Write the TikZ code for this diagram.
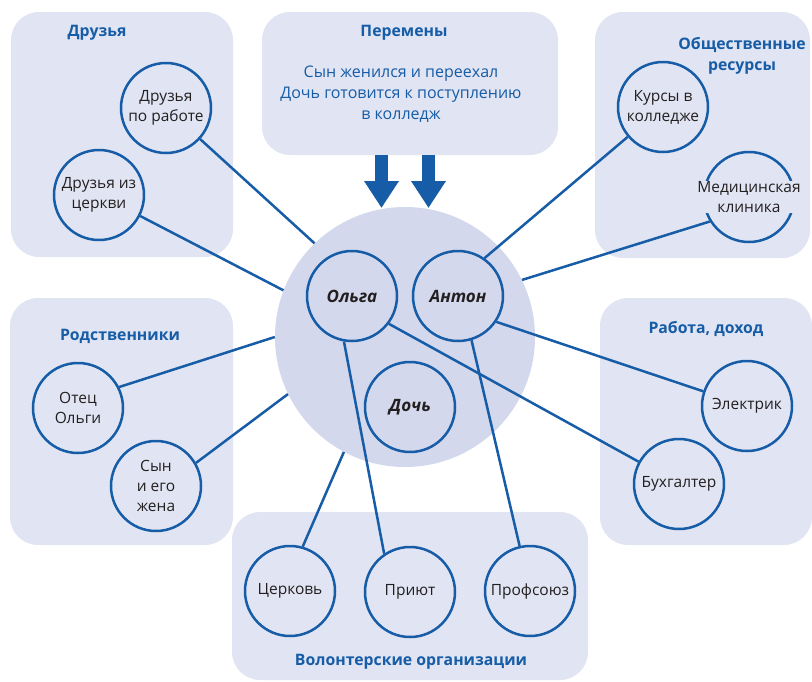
\documentclass[tikz,border=0pt]{standalone}
\usepackage{fontspec}
\setmainfont{Open Sans}
\usetikzlibrary{arrows.meta,calc}
\definecolor{boxfill}{RGB}{225,229,243}
\definecolor{bigfill}{RGB}{211,216,237}
\definecolor{lineblue}{RGB}{22,92,166}
\definecolor{txt}{RGB}{35,31,32}
\begin{document}
\begin{tikzpicture}[x=1pt,y=-1pt,
 grp/.style={fill=boxfill, draw=none, rounded corners=28pt, inner sep=0pt},
 sc/.style={circle, draw=lineblue, line width=2.5pt, fill=boxfill, minimum size=90pt, inner sep=0pt, align=center, text=txt, font=\fontsize{15.5}{20}\selectfont},
 cc/.style={sc, fill=bigfill, font=\fontsize{17}{20}\selectfont\bfseries\itshape},
 ttl/.style={text=lineblue, font=\fontsize{15.8}{21}\selectfont\bfseries, align=center, inner sep=0pt},
 body/.style={text=lineblue, font=\fontsize{16}{21}\selectfont, align=center, inner sep=0pt},
 link/.style={draw=lineblue, line width=2.5pt},
 fat/.style={draw=lineblue, line width=13pt, -{Triangle[width=33pt,length=27pt]}},
]
\useasboundingbox (0,0) rectangle (812,681);
% group boxes
\node[grp, minimum width=222pt, minimum height=245pt] (gfr) at (122,134.5) {};
\node[grp, minimum width=296pt, minimum height=143pt] (ch) at (410,83.5) {};
\node[grp, minimum width=215pt, minimum height=246pt] (gres) at (702.5,135) {};
\node[grp, minimum width=223pt, minimum height=247pt] (grel) at (121.5,421.5) {};
\node[grp, minimum width=212pt, minimum height=247pt] (gwork) at (706,421.5) {};
\node[grp, minimum width=356pt, minimum height=168pt] (gvol) at (410,596) {};
% titles
\node[ttl] (tfr) at (97,33) {Друзья};
\node[ttl] (tch) at (404,33) {Перемены};
\node[body] (tchb) at (401,94) {Сын женился и переехал\\Дочь готовится к поступлению\\в колледж};
\node[ttl] (tres) at (742,55.5) {Общественные\\ресурсы};
\node[ttl] (trel) at (120,336) {Родственники};
\node[ttl] (twork) at (706,329) {Работа, доход};
\node[ttl] (tvol) at (411,662) {Волонтерские организации};
% big circle
\node[circle, fill=bigfill, minimum size=260pt, inner sep=0pt] (big) at (405,337) {};
% circles
\node[cc] (olga) at (352,296) {Ольга};
\node[cc] (anton) at (458,296) {Антон};
\node[cc] (doch) at (410,407) {Дочь};
\node[sc] (fw) at (166,108) {Друзья\\по работе};
\node[sc] (fc) at (99,195) {Друзья из\\церкви};
\node[sc] (kurs) at (663,107) {Курсы в\\колледже};
\node[sc] (med) at (749,197) {};
\node[fill=boxfill, inner sep=0.5pt, align=center, text=txt, font=\fontsize{15.5}{20}\selectfont] (medt) at (med) {Медицинская\\клиника};
\node[sc] (otec) at (78,408) {Отец\\Ольги};
\node[sc] (son) at (156,486) {Сын\\и его\\жена};
\node[sc] (el) at (747,406) {Электрик};
\node[sc] (buh) at (679,484) {Бухгалтер};
\node[sc] (cer) at (290,591) {Церковь};
\node[sc] (pri) at (410,592) {Приют};
\node[sc] (prof) at (530,591) {Профсоюз};
% connectors
\draw[link] (fw) -- (big.134);
\draw[link] (fc.-27) -- (big.159);
\draw[link] (med.212) -- (big.26);
\draw[link] (otec.27) -- (big.180);
\draw[link] (son.30) -- (big.206);
\draw[link] (cer.74) -- (big.242);
\draw[link] (kurs) -- (anton.55);
\draw[link] (el) -- (anton.-34);
\draw[link] (buh) -- (olga.-37);
\draw[link] (olga.260) -- (pri.124);
\draw[link] (anton.287) -- (prof.103);
% arrows
\coordinate (a1) at (381.5,208);
\coordinate (a2) at (428.5,208);
\draw[fat] (a1 |- ch.south) -- (a1);
\draw[fat] (a2 |- ch.south) -- (a2);
\end{tikzpicture}
\end{document}
